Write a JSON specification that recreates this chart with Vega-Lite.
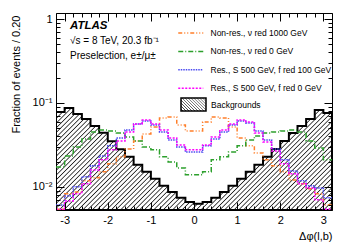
{
"$schema": "https://vega.github.io/schema/vega-lite/v6.json",
"width": 276, "height": 197,
"autosize": {"type": "none"},
"padding": {"left": 56, "top": 13, "right": 17, "bottom": 41},
"background": "white",
"config": {
  "font": "Liberation Sans",
  "view": {"stroke": "black", "strokeWidth": 1},
  "axis": {"grid": false, "domain": false, "tickColor": "black", "tickWidth": 1, "labelColor": "black", "titleColor": "black", "labelFont": "Liberation Sans", "titleFont": "Liberation Sans", "labelFontSize": 11, "titleFontSize": 11, "titleFontWeight": "normal", "labelFlush": false, "labelOverlap": false, "labelBound": false},
  "legend": {"padding": 0}
},
"data": {"values": [
{"x":-3.2,"bkg":0.078,"nr1000":0.0054,"nr0":0.0173,"r100":0.0061,"r0":0.0054},
{"x":-3.0,"bkg":0.087,"nr1000":0.0083,"nr0":0.0234,"r100":0.0078,"r0":0.0068},
{"x":-2.8,"bkg":0.074,"nr1000":0.0087,"nr0":0.0299,"r100":0.0100,"r0":0.0083},
{"x":-2.6,"bkg":0.0645,"nr1000":0.0118,"nr0":0.0373,"r100":0.0132,"r0":0.0109},
{"x":-2.4,"bkg":0.053,"nr1000":0.0128,"nr0":0.0452,"r100":0.0178,"r0":0.0159},
{"x":-2.2,"bkg":0.044,"nr1000":0.0151,"nr0":0.0477,"r100":0.0234,"r0":0.0210},
{"x":-2.0,"bkg":0.035,"nr1000":0.0188,"nr0":0.0464,"r100":0.0308,"r0":0.0276},
{"x":-1.8,"bkg":0.028,"nr1000":0.0228,"nr0":0.0439,"r100":0.0383,"r0":0.0353},
{"x":-1.6,"bkg":0.0228,"nr1000":0.0283,"nr0":0.0394,"r100":0.0477,"r0":0.0452},
{"x":-1.4,"bkg":0.0183,"nr1000":0.0353,"nr0":0.0353,"r100":0.0562,"r0":0.0562},
{"x":-1.2,"bkg":0.0151,"nr1000":0.0428,"nr0":0.0299,"r100":0.0610,"r0":0.0627},
{"x":-1.0,"bkg":0.0125,"nr1000":0.0518,"nr0":0.0276,"r100":0.0547,"r0":0.0562},
{"x":-0.8,"bkg":0.0103,"nr1000":0.0663,"nr0":0.0228,"r100":0.0452,"r0":0.0477},
{"x":-0.6,"bkg":0.0087,"nr1000":0.0681,"nr0":0.0198,"r100":0.0363,"r0":0.0383},
{"x":-0.4,"bkg":0.0074,"nr1000":0.0547,"nr0":0.0168,"r100":0.0299,"r0":0.0316},
{"x":-0.2,"bkg":0.0066,"nr1000":0.0464,"nr0":0.0139,"r100":0.0261,"r0":0.0276},
{"x":0.0,"bkg":0.0063,"nr1000":0.0464,"nr0":0.0139,"r100":0.0261,"r0":0.0276},
{"x":0.2,"bkg":0.0066,"nr1000":0.0594,"nr0":0.0151,"r100":0.0308,"r0":0.0316},
{"x":0.4,"bkg":0.0074,"nr1000":0.0681,"nr0":0.0210,"r100":0.0373,"r0":0.0394},
{"x":0.6,"bkg":0.0087,"nr1000":0.0663,"nr0":0.0228,"r100":0.0452,"r0":0.0477},
{"x":0.8,"bkg":0.0103,"nr1000":0.0518,"nr0":0.0261,"r100":0.0547,"r0":0.0562},
{"x":1.0,"bkg":0.0125,"nr1000":0.0383,"nr0":0.0308,"r100":0.0610,"r0":0.0627},
{"x":1.2,"bkg":0.0151,"nr1000":0.0308,"nr0":0.0363,"r100":0.0578,"r0":0.0594},
{"x":1.4,"bkg":0.0183,"nr1000":0.0254,"nr0":0.0405,"r100":0.0464,"r0":0.0439},
{"x":1.6,"bkg":0.0228,"nr1000":0.0210,"nr0":0.0439,"r100":0.0363,"r0":0.0343},
{"x":1.8,"bkg":0.0283,"nr1000":0.0178,"nr0":0.0452,"r100":0.0283,"r0":0.0268},
{"x":2.0,"bkg":0.0353,"nr1000":0.0151,"nr0":0.0464,"r100":0.0210,"r0":0.0188},
{"x":2.2,"bkg":0.0439,"nr1000":0.0121,"nr0":0.0477,"r100":0.0155,"r0":0.0143},
{"x":2.4,"bkg":0.0532,"nr1000":0.0109,"nr0":0.0452,"r100":0.0118,"r0":0.0109},
{"x":2.6,"bkg":0.0645,"nr1000":0.0095,"nr0":0.0353,"r100":0.0103,"r0":0.0097},
{"x":2.8,"bkg":0.0825,"nr1000":0.0083,"nr0":0.0291,"r100":0.0097,"r0":0.0070},
{"x":3.0,"bkg":0.076,"nr1000":0.0061,"nr0":0.0210,"r100":0.0074,"r0":0.0054},
{"x":3.2,"bkg":0.076,"nr1000":0.0061,"nr0":0.0210,"r100":0.0074,"r0":0.0054}
]},
"layer": [
{
  "mark": {"type": "area", "interpolate": "step-after", "clip": true, "stroke": "black", "strokeWidth": 2,
    "fill": {"gradient": "linear", "x1": 0, "y1": 0, "x2": 1.205, "y2": 0.4453, "stops": [
{"offset":0,"color":"#fff"},{"offset":0.003,"color":"#222"},{"offset":0.006,"color":"#fff"},
{"offset":0.0125,"color":"#fff"},{"offset":0.0155,"color":"#222"},{"offset":0.0185,"color":"#fff"},
{"offset":0.025,"color":"#fff"},{"offset":0.028,"color":"#222"},{"offset":0.031,"color":"#fff"},
{"offset":0.0375,"color":"#fff"},{"offset":0.0405,"color":"#222"},{"offset":0.0435,"color":"#fff"},
{"offset":0.05,"color":"#fff"},{"offset":0.053,"color":"#222"},{"offset":0.056,"color":"#fff"},
{"offset":0.0625,"color":"#fff"},{"offset":0.0655,"color":"#222"},{"offset":0.0685,"color":"#fff"},
{"offset":0.075,"color":"#fff"},{"offset":0.078,"color":"#222"},{"offset":0.081,"color":"#fff"},
{"offset":0.0875,"color":"#fff"},{"offset":0.0905,"color":"#222"},{"offset":0.0935,"color":"#fff"},
{"offset":0.1,"color":"#fff"},{"offset":0.103,"color":"#222"},{"offset":0.106,"color":"#fff"},
{"offset":0.1125,"color":"#fff"},{"offset":0.1155,"color":"#222"},{"offset":0.1185,"color":"#fff"},
{"offset":0.125,"color":"#fff"},{"offset":0.128,"color":"#222"},{"offset":0.131,"color":"#fff"},
{"offset":0.1375,"color":"#fff"},{"offset":0.1405,"color":"#222"},{"offset":0.1435,"color":"#fff"},
{"offset":0.15,"color":"#fff"},{"offset":0.153,"color":"#222"},{"offset":0.156,"color":"#fff"},
{"offset":0.1625,"color":"#fff"},{"offset":0.1655,"color":"#222"},{"offset":0.1685,"color":"#fff"},
{"offset":0.175,"color":"#fff"},{"offset":0.178,"color":"#222"},{"offset":0.181,"color":"#fff"},
{"offset":0.1875,"color":"#fff"},{"offset":0.1905,"color":"#222"},{"offset":0.1935,"color":"#fff"},
{"offset":0.2,"color":"#fff"},{"offset":0.203,"color":"#222"},{"offset":0.206,"color":"#fff"},
{"offset":0.2125,"color":"#fff"},{"offset":0.2155,"color":"#222"},{"offset":0.2185,"color":"#fff"},
{"offset":0.225,"color":"#fff"},{"offset":0.228,"color":"#222"},{"offset":0.231,"color":"#fff"},
{"offset":0.2375,"color":"#fff"},{"offset":0.2405,"color":"#222"},{"offset":0.2435,"color":"#fff"},
{"offset":0.25,"color":"#fff"},{"offset":0.253,"color":"#222"},{"offset":0.256,"color":"#fff"},
{"offset":0.2625,"color":"#fff"},{"offset":0.2655,"color":"#222"},{"offset":0.2685,"color":"#fff"},
{"offset":0.275,"color":"#fff"},{"offset":0.278,"color":"#222"},{"offset":0.281,"color":"#fff"},
{"offset":0.2875,"color":"#fff"},{"offset":0.2905,"color":"#222"},{"offset":0.2935,"color":"#fff"},
{"offset":0.3,"color":"#fff"},{"offset":0.303,"color":"#222"},{"offset":0.306,"color":"#fff"},
{"offset":0.3125,"color":"#fff"},{"offset":0.3155,"color":"#222"},{"offset":0.3185,"color":"#fff"},
{"offset":0.325,"color":"#fff"},{"offset":0.328,"color":"#222"},{"offset":0.331,"color":"#fff"},
{"offset":0.3375,"color":"#fff"},{"offset":0.3405,"color":"#222"},{"offset":0.3435,"color":"#fff"},
{"offset":0.35,"color":"#fff"},{"offset":0.353,"color":"#222"},{"offset":0.356,"color":"#fff"},
{"offset":0.3625,"color":"#fff"},{"offset":0.3655,"color":"#222"},{"offset":0.3685,"color":"#fff"},
{"offset":0.375,"color":"#fff"},{"offset":0.378,"color":"#222"},{"offset":0.381,"color":"#fff"},
{"offset":0.3875,"color":"#fff"},{"offset":0.3905,"color":"#222"},{"offset":0.3935,"color":"#fff"},
{"offset":0.4,"color":"#fff"},{"offset":0.403,"color":"#222"},{"offset":0.406,"color":"#fff"},
{"offset":0.4125,"color":"#fff"},{"offset":0.4155,"color":"#222"},{"offset":0.4185,"color":"#fff"},
{"offset":0.425,"color":"#fff"},{"offset":0.428,"color":"#222"},{"offset":0.431,"color":"#fff"},
{"offset":0.4375,"color":"#fff"},{"offset":0.4405,"color":"#222"},{"offset":0.4435,"color":"#fff"},
{"offset":0.45,"color":"#fff"},{"offset":0.453,"color":"#222"},{"offset":0.456,"color":"#fff"},
{"offset":0.4625,"color":"#fff"},{"offset":0.4655,"color":"#222"},{"offset":0.4685,"color":"#fff"},
{"offset":0.475,"color":"#fff"},{"offset":0.478,"color":"#222"},{"offset":0.481,"color":"#fff"},
{"offset":0.4875,"color":"#fff"},{"offset":0.4905,"color":"#222"},{"offset":0.4935,"color":"#fff"},
{"offset":0.5,"color":"#fff"},{"offset":0.503,"color":"#222"},{"offset":0.506,"color":"#fff"},
{"offset":0.5125,"color":"#fff"},{"offset":0.5155,"color":"#222"},{"offset":0.5185,"color":"#fff"},
{"offset":0.525,"color":"#fff"},{"offset":0.528,"color":"#222"},{"offset":0.531,"color":"#fff"},
{"offset":0.5375,"color":"#fff"},{"offset":0.5405,"color":"#222"},{"offset":0.5435,"color":"#fff"},
{"offset":0.55,"color":"#fff"},{"offset":0.553,"color":"#222"},{"offset":0.556,"color":"#fff"},
{"offset":0.5625,"color":"#fff"},{"offset":0.5655,"color":"#222"},{"offset":0.5685,"color":"#fff"},
{"offset":0.575,"color":"#fff"},{"offset":0.578,"color":"#222"},{"offset":0.581,"color":"#fff"},
{"offset":0.5875,"color":"#fff"},{"offset":0.5905,"color":"#222"},{"offset":0.5935,"color":"#fff"},
{"offset":0.6,"color":"#fff"},{"offset":0.603,"color":"#222"},{"offset":0.606,"color":"#fff"},
{"offset":0.6125,"color":"#fff"},{"offset":0.6155,"color":"#222"},{"offset":0.6185,"color":"#fff"},
{"offset":0.625,"color":"#fff"},{"offset":0.628,"color":"#222"},{"offset":0.631,"color":"#fff"},
{"offset":0.6375,"color":"#fff"},{"offset":0.6405,"color":"#222"},{"offset":0.6435,"color":"#fff"},
{"offset":0.65,"color":"#fff"},{"offset":0.653,"color":"#222"},{"offset":0.656,"color":"#fff"},
{"offset":0.6625,"color":"#fff"},{"offset":0.6655,"color":"#222"},{"offset":0.6685,"color":"#fff"},
{"offset":0.675,"color":"#fff"},{"offset":0.678,"color":"#222"},{"offset":0.681,"color":"#fff"},
{"offset":0.6875,"color":"#fff"},{"offset":0.6905,"color":"#222"},{"offset":0.6935,"color":"#fff"},
{"offset":0.7,"color":"#fff"},{"offset":0.703,"color":"#222"},{"offset":0.706,"color":"#fff"},
{"offset":0.7125,"color":"#fff"},{"offset":0.7155,"color":"#222"},{"offset":0.7185,"color":"#fff"},
{"offset":0.725,"color":"#fff"},{"offset":0.728,"color":"#222"},{"offset":0.731,"color":"#fff"},
{"offset":0.7375,"color":"#fff"},{"offset":0.7405,"color":"#222"},{"offset":0.7435,"color":"#fff"},
{"offset":0.75,"color":"#fff"},{"offset":0.753,"color":"#222"},{"offset":0.756,"color":"#fff"},
{"offset":0.7625,"color":"#fff"},{"offset":0.7655,"color":"#222"},{"offset":0.7685,"color":"#fff"},
{"offset":0.775,"color":"#fff"},{"offset":0.778,"color":"#222"},{"offset":0.781,"color":"#fff"},
{"offset":0.7875,"color":"#fff"},{"offset":0.7905,"color":"#222"},{"offset":0.7935,"color":"#fff"},
{"offset":0.8,"color":"#fff"},{"offset":0.803,"color":"#222"},{"offset":0.806,"color":"#fff"},
{"offset":0.8125,"color":"#fff"},{"offset":0.8155,"color":"#222"},{"offset":0.8185,"color":"#fff"},
{"offset":0.825,"color":"#fff"},{"offset":0.828,"color":"#222"},{"offset":0.831,"color":"#fff"},
{"offset":0.8375,"color":"#fff"},{"offset":0.8405,"color":"#222"},{"offset":0.8435,"color":"#fff"},
{"offset":0.85,"color":"#fff"},{"offset":0.853,"color":"#222"},{"offset":0.856,"color":"#fff"},
{"offset":0.8625,"color":"#fff"},{"offset":0.8655,"color":"#222"},{"offset":0.8685,"color":"#fff"},
{"offset":0.875,"color":"#fff"},{"offset":0.878,"color":"#222"},{"offset":0.881,"color":"#fff"},
{"offset":0.8875,"color":"#fff"},{"offset":0.8905,"color":"#222"},{"offset":0.8935,"color":"#fff"},
{"offset":0.9,"color":"#fff"},{"offset":0.903,"color":"#222"},{"offset":0.906,"color":"#fff"},
{"offset":0.9125,"color":"#fff"},{"offset":0.9155,"color":"#222"},{"offset":0.9185,"color":"#fff"},
{"offset":0.925,"color":"#fff"},{"offset":0.928,"color":"#222"},{"offset":0.931,"color":"#fff"},
{"offset":0.9375,"color":"#fff"},{"offset":0.9405,"color":"#222"},{"offset":0.9435,"color":"#fff"},
{"offset":0.95,"color":"#fff"},{"offset":0.953,"color":"#222"},{"offset":0.956,"color":"#fff"},
{"offset":0.9625,"color":"#fff"},{"offset":0.9655,"color":"#222"},{"offset":0.9685,"color":"#fff"},
{"offset":0.975,"color":"#fff"},{"offset":0.978,"color":"#222"},{"offset":0.981,"color":"#fff"},
{"offset":0.9875,"color":"#fff"},{"offset":0.9905,"color":"#222"},{"offset":0.9935,"color":"#fff"}
    ]}},
  "encoding": {
    "x": {"field": "x", "type": "quantitative", "scale": {"domain": [-3.2, 3.2], "nice": false, "zero": false},
      "axis": {"orient": "bottom", "values": [-3,-2,-1,0,1,2,3], "ticks": false, "labelExpr": "'' + datum.value", "labelPadding": 4,
        "title": "Δφ(l,b)", "titleAnchor": "end", "titleAlign": "right", "titleBaseline": "middle", "titleX": 276, "titleY": 26}},
    "y": {"field": "bkg", "type": "quantitative", "scale": {"type": "log", "domain": [0.0053, 1.18], "nice": false},
      "axis": {"orient": "left", "values": [0.01, 0.1, 1], "ticks": false,
        "labelExpr": "datum.value > 0.5 ? '1' : datum.value > 0.05 ? '10⁻¹' : '10⁻²'", "labelPadding": 4,
        "title": "Fraction of events / 0.20", "titleAnchor": "end", "titleAngle": -90, "titleAlign": "right", "titleBaseline": "middle", "titleX": -40, "titleY": 2}},
    "y2": {"datum": 0.0053},
    "opacity": {"datum": "Backgrounds", "type": "nominal", "scale": {"range": [1, 1]},
      "legend": {"orient": "none", "legendX": 124, "legendY": 78, "title": null,
        "symbolType": "M-1,-0.52H1V0.52H-1Z", "symbolSize": 625,
        "labelFont": "Liberation Sans", "labelFontSize": 8.5, "labelColor": "black", "labelOffset": 4}}
  }
},
{
  "transform": [{"fold": ["nr1000", "nr0", "r100", "r0"], "as": ["series", "v"]}],
  "mark": {"type": "line", "interpolate": "step-after", "clip": true, "strokeWidth": 1.5},
  "encoding": {
    "x": {"field": "x", "type": "quantitative", "scale": {"domain": [-3.2, 3.2], "nice": false, "zero": false},
      "axis": {"orient": "bottom", "values": [-3,-2,-1,0,1,2,3], "labels": false, "tickSize": -8, "title": null, "zindex": 1}},
    "y": {"field": "v", "type": "quantitative", "scale": {"type": "log", "domain": [0.0053, 1.18], "nice": false},
      "axis": {"orient": "left", "values": [0.01, 0.1, 1], "labels": false, "tickSize": -8, "title": null, "zindex": 1}},
    "color": {"field": "series", "type": "nominal",
      "scale": {"domain": ["nr1000", "nr0", "r100", "r0"], "range": ["#ff7f2a", "#2ca02c", "#4b4bf0", "#ff00ff"]},
      "legend": {"orient": "none", "legendX": 127.75, "legendY": 13, "title": null,
        "symbolType": "M-2,0H2", "symbolSize": 156.25, "symbolStrokeWidth": 1.5,
        "labelFont": "Liberation Sans", "labelFontSize": 8.5, "labelColor": "black", "labelOffset": 12.75, "rowPadding": 6.4,
        "labelExpr": "datum.value == 'nr1000' ? 'Non-res., ν red 1000 GeV' : datum.value == 'nr0' ? 'Non-res., ν red 0 GeV' : datum.value == 'r100' ? 'Res., S 500 GeV, f red 100 GeV' : 'Res., S 500 GeV, f red 0 GeV'"}},
    "strokeDash": {"field": "series", "type": "nominal",
      "scale": {"domain": ["nr1000", "nr0", "r100", "r0"], "range": [[4,2,1,2,1,2], [5,2,1,2], [1.5,1], [2,1.5]]}}
  }
},
{
  "data": {"values": [{}]},
  "mark": {"type": "text", "text": "ATLAS", "font": "Liberation Sans", "fontSize": 11.5, "fontWeight": "bold", "fontStyle": "italic", "align": "left", "baseline": "middle", "color": "black"},
  "encoding": {
    "x": {"datum": -2.875, "type": "quantitative", "scale": {"domain": [-3.2, 3.2], "nice": false, "zero": false},
      "axis": {"orient": "bottom", "values": [-3.2,-3,-2.8,-2.6,-2.4,-2.2,-2,-1.8,-1.6,-1.4,-1.2,-1,-0.8,-0.6,-0.4,-0.2,0,0.2,0.4,0.6,0.8,1,1.2,1.4,1.6,1.8,2,2.2,2.4,2.6,2.8,3,3.2], "labels": false, "tickSize": -4, "title": null, "zindex": 1}},
    "y": {"datum": 0.82, "type": "quantitative", "scale": {"type": "log", "domain": [0.0053, 1.18], "nice": false},
      "axis": {"orient": "left", "values": [0.006,0.007,0.008,0.009,0.02,0.03,0.04,0.05,0.06,0.07,0.08,0.09,0.2,0.3,0.4,0.5,0.6,0.7,0.8,0.9], "labels": false, "tickSize": -4, "title": null, "zindex": 1}}
  }
},
{
  "data": {"values": [{}]},
  "mark": {"type": "text", "text": "√s = 8 TeV, 20.3 fb⁻¹", "font": "Liberation Sans", "fontSize": 10, "align": "left", "baseline": "middle", "color": "black"},
  "encoding": {
    "x": {"datum": -2.875, "type": "quantitative", "scale": {"domain": [-3.2, 3.2], "nice": false, "zero": false},
      "axis": {"orient": "top", "values": [-3,-2,-1,0,1,2,3], "labels": false, "tickSize": -8, "title": null, "zindex": 1}},
    "y": {"datum": 0.54, "type": "quantitative", "scale": {"type": "log", "domain": [0.0053, 1.18], "nice": false},
      "axis": {"orient": "right", "values": [0.01, 0.1, 1], "labels": false, "tickSize": -8, "title": null, "zindex": 1}}
  }
},
{
  "data": {"values": [{}]},
  "mark": {"type": "text", "text": "Preselection, e±/μ±", "font": "Liberation Sans", "fontSize": 10, "align": "left", "baseline": "middle", "color": "black"},
  "encoding": {
    "x": {"datum": -2.875, "type": "quantitative", "scale": {"domain": [-3.2, 3.2], "nice": false, "zero": false},
      "axis": {"orient": "top", "values": [-3.2,-3,-2.8,-2.6,-2.4,-2.2,-2,-1.8,-1.6,-1.4,-1.2,-1,-0.8,-0.6,-0.4,-0.2,0,0.2,0.4,0.6,0.8,1,1.2,1.4,1.6,1.8,2,2.2,2.4,2.6,2.8,3,3.2], "labels": false, "tickSize": -4, "title": null, "zindex": 1}},
    "y": {"datum": 0.3627, "type": "quantitative", "scale": {"type": "log", "domain": [0.0053, 1.18], "nice": false},
      "axis": {"orient": "right", "values": [0.006,0.007,0.008,0.009,0.02,0.03,0.04,0.05,0.06,0.07,0.08,0.09,0.2,0.3,0.4,0.5,0.6,0.7,0.8,0.9], "labels": false, "tickSize": -4, "title": null, "zindex": 1}}
  }
}
],
"resolve": {"axis": {"x": "independent", "y": "independent"}}
}
